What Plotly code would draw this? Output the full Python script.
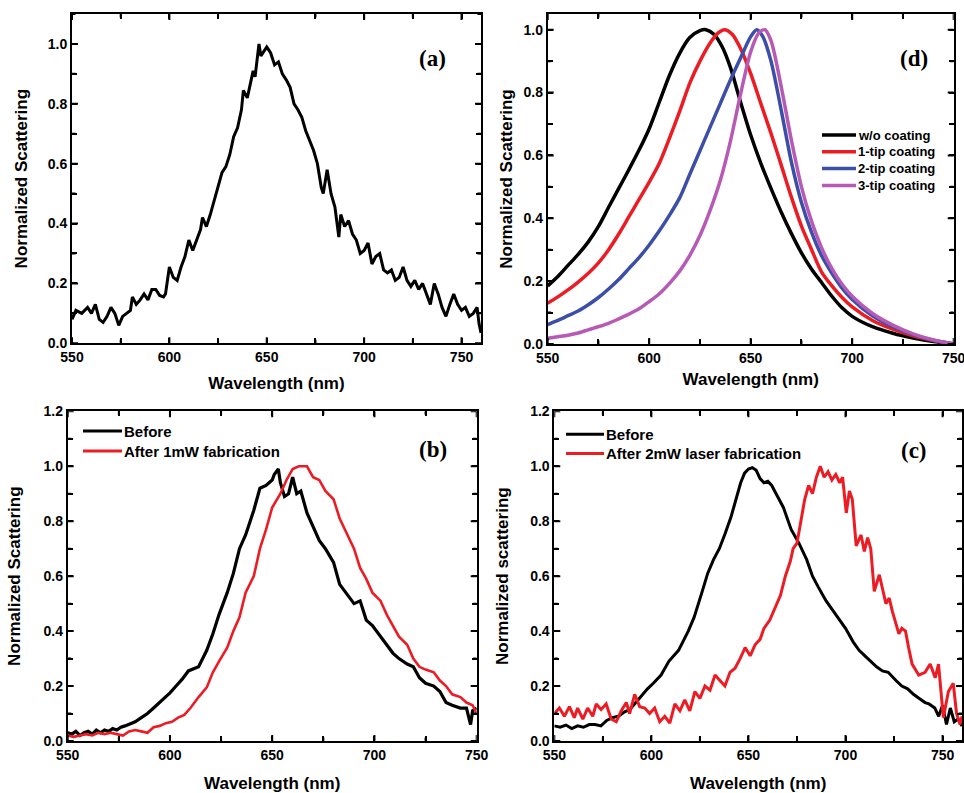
import plotly.graph_objects as go

W, H = 964, 793

# ---------------- data ----------------
# (a) single spectrum
a_wl = [550,552,555,558,560,562,564,566,568,570,572,574,576,578,580,581,583,585,587,589,
        591,593,595,597,598,600,602,604,606,608,610,612,614,616,617,619,621,623,625,627,
        629,631,633,635,637,638,640,642,643,644,645,646,647,648,649,650,651,652,654,656,
        658,660,662,664,666,668,670,672,674,676,678,679,681,683,685,687,688,690,692,694,
        696,698,700,702,704,706,708,710,712,714,716,718,720,722,724,726,728,730,732,734,
        736,738,740,742,744,746,748,750,752,754,756,758,759,760]
a_val = [0.08,0.11,0.10,0.12,0.10,0.13,0.08,0.07,0.09,0.12,0.10,0.06,0.09,0.10,0.11,0.155,0.13,0.145,0.165,0.145,
         0.18,0.18,0.16,0.155,0.165,0.255,0.22,0.21,0.255,0.29,0.345,0.31,0.345,0.38,0.42,0.39,0.43,0.48,0.52,0.57,
         0.59,0.63,0.69,0.72,0.78,0.845,0.82,0.88,0.91,0.89,0.95,1.0,0.96,0.97,0.98,0.99,0.98,0.97,0.93,0.94,
         0.90,0.88,0.855,0.80,0.78,0.755,0.71,0.68,0.645,0.60,0.52,0.50,0.58,0.50,0.455,0.355,0.43,0.39,0.41,0.365,
         0.345,0.30,0.31,0.335,0.265,0.29,0.30,0.245,0.235,0.245,0.21,0.22,0.255,0.21,0.19,0.21,0.18,0.20,0.165,0.13,
         0.20,0.165,0.12,0.09,0.13,0.165,0.13,0.11,0.12,0.09,0.10,0.12,0.065,0.035]

# (b) before / after 1 mW
b_before_wl = [550,552,554,556,558,560,562,564,566,568,570,572,574,576,578,580,583,586,589,592,
               595,598,600,603,606,609,614,618,621,624,628,631,634,637,641,644,647,650,651,653,
               654,656,658,660,662,664,667,670,673,676,680,683,686,690,693,696,699,703,706,709,
               712,716,719,722,725,729,732,735,738,742,745,747,748,750]
b_before = [0.03,0.025,0.035,0.02,0.03,0.035,0.025,0.04,0.03,0.04,0.035,0.045,0.04,0.05,0.055,0.06,0.07,0.085,0.10,0.12,
            0.14,0.16,0.175,0.20,0.225,0.255,0.27,0.33,0.39,0.46,0.54,0.61,0.70,0.75,0.84,0.92,0.93,0.95,0.97,0.99,
            0.94,0.89,0.90,0.96,0.90,0.91,0.83,0.78,0.73,0.70,0.65,0.57,0.54,0.50,0.51,0.44,0.42,0.38,0.35,0.32,
            0.30,0.28,0.27,0.23,0.21,0.20,0.18,0.14,0.13,0.12,0.12,0.06,0.11,0.12]
b_after_wl = [550,553,556,559,562,565,568,571,574,577,580,583,586,589,592,595,598,601,604,607,
              610,614,618,621,624,628,631,634,637,641,644,647,650,654,657,660,663,667,670,673,
              676,680,683,686,690,693,696,699,703,706,709,712,716,719,722,725,729,732,735,738,
              742,745,748,750]
b_after = [0.02,0.015,0.02,0.025,0.02,0.03,0.025,0.03,0.025,0.02,0.035,0.04,0.035,0.03,0.05,0.055,0.065,0.07,0.085,0.095,
           0.12,0.16,0.195,0.25,0.29,0.34,0.40,0.45,0.54,0.60,0.70,0.77,0.85,0.90,0.95,0.99,1.0,1.0,0.96,0.95,
           0.91,0.88,0.81,0.76,0.70,0.63,0.59,0.54,0.51,0.46,0.42,0.38,0.35,0.30,0.27,0.26,0.25,0.22,0.20,0.17,
           0.16,0.14,0.13,0.10]

# (c) before / after 2 mW
c_before_wl = [550,553,556,559,562,565,568,571,574,577,580,583,586,589,592,595,598,601,605,609,
               614,619,622,626,629,632,635,638,641,644,646,648,650,652,654,656,658,660,662,665,
               668,672,676,680,683,686,690,694,697,700,704,707,710,713,716,719,722,726,729,732,
               735,738,741,743,746,748,750,752,754,756,758,760]
c_before = [0.055,0.05,0.058,0.045,0.055,0.05,0.06,0.06,0.055,0.075,0.085,0.09,0.105,0.115,0.14,0.165,0.19,0.21,0.24,0.29,
            0.33,0.40,0.45,0.54,0.61,0.66,0.70,0.755,0.815,0.89,0.94,0.975,0.99,0.995,0.985,0.955,0.94,0.945,0.93,0.89,
            0.85,0.77,0.72,0.66,0.60,0.56,0.51,0.47,0.44,0.41,0.36,0.33,0.31,0.29,0.27,0.255,0.25,0.22,0.20,0.19,
            0.17,0.155,0.14,0.135,0.12,0.09,0.13,0.06,0.12,0.07,0.08,0.055]
c_after_wl = [550,552.6,555.2,557.8,560.3,562,564.7,567.2,569.8,571.6,574.1,576.7,579.3,581.9,584.5,587.1,588.8,591.4,594,596.6,
              599.1,601.7,604.3,606.9,609.5,612.1,614.7,617.2,619.8,622.4,625,627.6,630.2,632.8,635.3,637.9,640.5,643.1,645.7,648.3,
              650.9,653.4,656,658,661,664,666.5,669,671.6,673,675,677,679,681,683,685,687,689,691,693,
              695,697,698.5,700.4,702,703.5,705.5,708,709.7,711.4,713,714.8,717.4,720.8,722.5,724.2,727.5,729,730.9,732.5,
              734.3,736,737.7,741,743.6,746.2,747.9,750.4,753,755.5,757.2,759,760]
c_after = [0.10,0.12,0.09,0.125,0.085,0.12,0.08,0.12,0.09,0.135,0.115,0.135,0.08,0.07,0.11,0.14,0.10,0.17,0.125,0.12,
           0.10,0.12,0.07,0.09,0.065,0.135,0.11,0.15,0.11,0.18,0.155,0.20,0.185,0.24,0.22,0.20,0.25,0.265,0.30,0.34,
           0.31,0.35,0.37,0.41,0.44,0.49,0.53,0.60,0.655,0.70,0.72,0.80,0.88,0.93,0.90,0.96,1.0,0.96,0.98,0.95,
           0.97,0.94,0.96,0.83,0.91,0.88,0.71,0.75,0.69,0.74,0.70,0.545,0.605,0.50,0.52,0.47,0.39,0.41,0.40,0.34,
           0.28,0.26,0.24,0.25,0.28,0.23,0.28,0.085,0.18,0.21,0.10,0.06,0.09]

# (d) simulated spectra
d_none_wl = [550,555,560,565,570,575,580,585,590,595,600,605,610,615,620,625,628,632,636,640,
             645,650,655,660,665,670,675,680,685,690,695,700,710,720,730,740,750]
d_none = [0.185,0.215,0.25,0.285,0.325,0.374,0.435,0.495,0.555,0.617,0.685,0.77,0.855,0.925,0.975,0.997,1.0,0.985,0.945,0.88,
          0.77,0.665,0.575,0.495,0.42,0.352,0.29,0.238,0.195,0.152,0.115,0.088,0.055,0.034,0.019,0.008,0.0]
d_tip1_wl = [550,555,560,565,570,575,580,585,590,595,600,605,610,615,620,625,630,634,637,641,
             645,650,655,660,665,670,675,680,685,690,695,700,710,720,730,740,750]
d_tip1 = [0.13,0.15,0.172,0.197,0.225,0.258,0.30,0.35,0.405,0.46,0.515,0.575,0.655,0.74,0.83,0.90,0.958,0.99,1.0,0.985,
          0.94,0.86,0.765,0.67,0.57,0.468,0.375,0.30,0.228,0.185,0.148,0.118,0.075,0.047,0.026,0.011,0.0]
d_tip2_wl = [550,555,560,565,570,575,580,585,590,595,600,605,610,615,620,625,630,635,640,645,
             650,653,656,660,665,670,675,680,685,690,695,700,710,720,730,740,750]
d_tip2 = [0.062,0.075,0.09,0.105,0.125,0.148,0.175,0.205,0.24,0.275,0.315,0.36,0.41,0.465,0.54,0.615,0.69,0.765,0.84,0.91,
          0.978,1.0,0.978,0.90,0.745,0.58,0.45,0.355,0.28,0.225,0.178,0.142,0.09,0.055,0.03,0.012,0.0]
d_tip3_wl = [550,555,560,565,570,575,580,585,590,595,600,605,610,615,620,625,630,635,640,645,
             650,654,657,660,665,670,675,680,685,690,695,700,710,720,730,740,750]
d_tip3 = [0.018,0.023,0.028,0.035,0.045,0.055,0.066,0.08,0.095,0.112,0.135,0.16,0.193,0.232,0.282,0.345,0.425,0.52,0.645,0.795,
          0.93,0.99,1.0,0.965,0.82,0.65,0.50,0.39,0.305,0.24,0.19,0.152,0.097,0.06,0.032,0.013,0.0]

# tick positions / labels (majors labelled, minors blank)
x_tickvals = [550, 575, 600, 625, 650, 675, 700, 725, 750]
x_ticktext = ["550", "", "600", "", "650", "", "700", "", "750"]
y_tickvals = [0.0, 0.1, 0.2, 0.3, 0.4, 0.5, 0.6, 0.7, 0.8, 0.9, 1.0, 1.1, 1.2]
y_ticktext = ["0.0", "", "0.2", "", "0.4", "", "0.6", "", "0.8", "", "1.0", "", "1.2"]

RED = "#ec1c24"
BLUE = "#3c4fa8"
MAG = "#b65ab6"
FONT = "Liberation Sans"

d_series = [("w/o coating", d_none_wl, d_none, "black"), ("1-tip coating", d_tip1_wl, d_tip1, RED),
            ("2-tip coating", d_tip2_wl, d_tip2, BLUE), ("3-tip coating", d_tip3_wl, d_tip3, MAG)]
b_series = [("Before", b_before_wl, b_before, "black", 3.2), ("After 1mW fabrication", b_after_wl, b_after, RED, 2.6)]
c_series = [("Before", c_before_wl, c_before, "black", 3.0), ("After 2mW laser fabrication", c_after_wl, c_after, RED, 3.0)]

fig = go.Figure()

# (a)
fig.add_trace(go.Scatter(x=a_wl, y=a_val, mode="lines", line=dict(color="black", width=3),
                         showlegend=False, xaxis="x", yaxis="y"))
# (d)
for name, xs, ys, col in d_series:
    fig.add_trace(go.Scatter(x=xs, y=ys, name=name, mode="lines",
                             line=dict(color=col, width=3.5, shape="spline", smoothing=0.8),
                             xaxis="x2", yaxis="y2"))
# (b)
for name, xs, ys, col, lw in b_series:
    fig.add_trace(go.Scatter(x=xs, y=ys, name=name, mode="lines", line=dict(color=col, width=lw),
                             xaxis="x3", yaxis="y3"))
# (c)
for name, xs, ys, col, lw in c_series:
    fig.add_trace(go.Scatter(x=xs, y=ys, name=name, mode="lines", line=dict(color=col, width=lw),
                             xaxis="x4", yaxis="y4"))


def px_x(p):
    return p / W


def px_y(p):
    return 1 - p / H


def axis(domain, rng, anchor, title, standoff, vals, text):
    return dict(domain=domain, range=rng, anchor=anchor,
                tickmode="array", tickvals=vals, ticktext=text,
                ticks="inside", ticklen=5, tickwidth=2, tickcolor="black",
                showline=True, linewidth=1.8, linecolor="black", mirror="allticks",
                showgrid=False, zeroline=False, automargin=False, ticklabeloverflow="allow",
                tickfont=dict(family=FONT, size=14, color="black", weight="bold"),
                title=dict(text=title, standoff=standoff,
                           font=dict(family=FONT, size=17, color="black", weight="bold")))


xa = [px_x(72), px_x(481)]
ya = [px_y(343.3), px_y(14)]
xd = [px_x(547.7), px_x(953.7)]
yd = [px_y(344), px_y(14)]
xb = [px_x(67.7), px_x(476.7)]
yb = [px_y(741), px_y(411.3)]
xc = [px_x(554.3), px_x(962)]
yc = [px_y(741), px_y(411.3)]

panels = [
    ("x", "y", [550, 760], [0, 1.1]),
    ("x2", "y2", [550, 750], [0, 1.05]),
    ("x3", "y3", [550, 750], [0, 1.2]),
    ("x4", "y4", [550, 760], [0, 1.2]),
]

fig.update_layout(
    width=W, height=H, margin=dict(l=0, r=0, t=0, b=0), showlegend=False,
    paper_bgcolor="white", plot_bgcolor="white",
    xaxis=axis(xa, panels[0][2], "y", "Wavelength (nm)", 13, x_tickvals, x_ticktext),
    yaxis=axis(ya, panels[0][3], "x", "Normalized Scattering", 16, y_tickvals, y_ticktext),
    xaxis2=axis(xd, panels[1][2], "y2", "Wavelength (nm)", 8, x_tickvals, x_ticktext),
    yaxis2=axis(yd, panels[1][3], "x2", "Normalized Scattering", 7, y_tickvals, y_ticktext),
    xaxis3=axis(xb, panels[2][2], "y3", "Wavelength (nm)", 15, x_tickvals, x_ticktext),
    yaxis3=axis(yb, panels[2][3], "x3", "Normalized Scattering", 19, y_tickvals, y_ticktext),
    xaxis4=axis(xc, panels[3][2], "y4", "Wavelength (nm)", 18, x_tickvals, x_ticktext),
    yaxis4=axis(yc, panels[3][3], "x4", "Normalized scattering", 17, y_tickvals, y_ticktext),
)

# frame tick marks on all four sides, placed through each axis' own scale
TICK = dict(color="black", width=2)
for xr, yr, xrng, yrng in panels:
    for v, t in zip(x_tickvals, x_ticktext):
        if v < xrng[0] or v > xrng[1]:
            continue
        L = 6 if t else 3.5
        fig.add_shape(type="line", xref=xr, yref=yr, x0=v, x1=v, ysizemode="pixel", yanchor=yrng[0],
                      y0=0, y1=L, line=TICK, layer="above")
        fig.add_shape(type="line", xref=xr, yref=yr, x0=v, x1=v, ysizemode="pixel", yanchor=yrng[1],
                      y0=0, y1=-L, line=TICK, layer="above")
    for v, t in zip(y_tickvals, y_ticktext):
        if v > yrng[1] + 1e-9:
            continue
        L = 6 if t else 3.5
        fig.add_shape(type="line", xref=xr, yref=yr, y0=v, y1=v, xsizemode="pixel", xanchor=xrng[0],
                      x0=0, x1=L, line=TICK, layer="above")
        fig.add_shape(type="line", xref=xr, yref=yr, y0=v, y1=v, xsizemode="pixel", xanchor=xrng[1],
                      x0=0, x1=-L, line=TICK, layer="above")


# legends (glyph line + label), laid out like the original
def legend_block(entries, x_line0, x_line1, x_text, y0, dy, size, lw):
    for i, (name, col) in enumerate(entries):
        yy = px_y(y0 + i * dy)
        fig.add_shape(type="line", xref="paper", yref="paper", x0=px_x(x_line0), x1=px_x(x_line1),
                      y0=yy, y1=yy, line=dict(color=col, width=lw))
        fig.add_annotation(text=name, x=px_x(x_text), y=yy, xref="paper", yref="paper", showarrow=False,
                           xanchor="left", yanchor="middle",
                           font=dict(family=FONT, size=size, color="black", weight="bold"))


legend_block([(s[0], s[3]) for s in d_series], 822, 856, 856, 135, 16.8, 13, 3.5)
legend_block([(s[0], s[3]) for s in b_series], 83, 122, 122, 431, 20, 15, 3)
legend_block([(s[0], s[3]) for s in c_series], 566, 604, 604, 434.3, 19.2, 15, 3)

labels = [("(a)", 432, 59), ("(d)", 914, 59), ("(b)", 433, 449), ("(c)", 914, 450)]
for txt, x, y in labels:
    fig.add_annotation(text=txt, x=px_x(x), y=px_y(y), xref="paper", yref="paper", showarrow=False,
                       xanchor="center", yanchor="middle",
                       font=dict(family="Liberation Serif", size=23, color="black", weight="bold"))

fig.write_html("out.html", config={"displayModeBar": False},
               post_script="document.body.style.margin='0px';")
